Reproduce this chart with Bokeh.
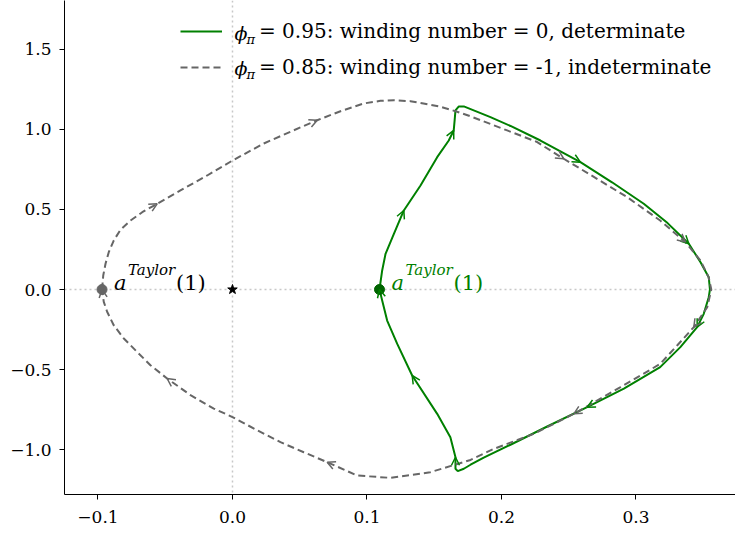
from bokeh.plotting import figure
from bokeh.models import (Range1d, FixedTicker, CustomJSTickFormatter, Span, Arrow, OpenHead,
                          ColumnDataSource, Label, Legend, LegendItem)
from bokeh.embed import file_html
from bokeh.resources import INLINE

# ---------------- data ----------------
# phi_pi = 0.95 (determinate, winding number 0) -- traversed clockwise from a^Taylor(1)
green_x = [0.1093, 0.1113, 0.1138, 0.12, 0.1274, 0.1398, 0.1522, 0.1608, 0.1645, 0.1652,
           0.1658, 0.1683, 0.172, 0.1918, 0.2067, 0.229, 0.2587, 0.2822, 0.3058, 0.3235,
           0.3393, 0.348, 0.3541, 0.355, 0.3541, 0.3504, 0.3455, 0.333, 0.318, 0.291,
           0.2637, 0.234, 0.2067, 0.1868, 0.177, 0.172, 0.1675, 0.1658, 0.1658, 0.162,
           0.1522, 0.1336, 0.1225, 0.115, 0.1113, 0.1093]
green_y = [0.0, 0.119, 0.223, 0.348, 0.494, 0.65, 0.827, 0.931, 0.994, 1.06,
           1.119, 1.144, 1.144, 1.077, 1.022, 0.931, 0.796, 0.67, 0.536, 0.415,
           0.286, 0.17, 0.077, 0.0, -0.048, -0.152, -0.235, -0.36, -0.485, -0.62,
           -0.735, -0.856, -0.97, -1.05, -1.095, -1.12, -1.135, -1.12, -1.048, -0.923,
           -0.777, -0.5375, -0.34, -0.194, -0.069, 0.0]
green_arrows = [4, 8, 16, 20, 26, 30, 38, 41, 45]

# phi_pi = 0.85 (indeterminate, winding number -1)
gray_x = [-0.097, -0.0961, -0.0944, -0.092, -0.0883, -0.0833, -0.0758, -0.0671, -0.056, -0.0387,
          -0.0188, 0.0, 0.0233, 0.0431, 0.063, 0.0803, 0.0976, 0.11, 0.12, 0.1323,
          0.142, 0.1547, 0.167, 0.1777, 0.2042, 0.226, 0.2463, 0.266, 0.2935, 0.318,
          0.3368, 0.348, 0.354, 0.356, 0.353, 0.343, 0.3306, 0.318, 0.2885, 0.2538,
          0.224, 0.1943, 0.177, 0.147, 0.1175, 0.0927, 0.0704, 0.053, 0.0357, 0.018,
          0.0, -0.0139, -0.0312, -0.0486, -0.061, -0.0709, -0.0808, -0.0883, -0.0932, -0.0957,
          -0.097]
gray_y = [0.0, 0.0875, 0.161, 0.233, 0.306, 0.373, 0.431, 0.483, 0.536, 0.619,
          0.7125, 0.806, 0.9125, 0.986, 1.058, 1.114, 1.1625, 1.179, 1.183, 1.177,
          1.1625, 1.142, 1.111, 1.08, 0.994, 0.9235, 0.817, 0.7175, 0.577, 0.431,
          0.296, 0.181, 0.077, 0.0, -0.11, -0.235, -0.35, -0.465, -0.61, -0.777,
          -0.902, -0.996, -1.065, -1.142, -1.177, -1.1625, -1.079, -1.017, -0.954, -0.878,
          -0.797, -0.744, -0.66, -0.556, -0.473, -0.39, -0.306, -0.223, -0.139, -0.077,
          0.0]
gray_arrows = [8, 14, 26, 30, 35, 39, 46, 53, 60]

taylor_x = [0.1093, -0.097]   # a^Taylor(1) for phi=0.95, phi=0.85
taylor_y = [0.0, 0.0]
origin_x = [0.0]
origin_y = [0.0]

ref_x = 0.0
ref_y = 0.0

legend_labels = ["= 0.95: winding number = 0, determinate",
                 "= 0.85: winding number = -1, indeterminate"]

x_ticks = [-0.1, 0.0, 0.1, 0.2, 0.3]
x_tick_labels = ["\u22120.1", "0.0", "0.1", "0.2", "0.3"]
y_ticks = [-1.0, -0.5, 0.0, 0.5, 1.0, 1.5]
y_tick_labels = ["\u22121.0", "\u22120.5", "0.0", "0.5", "1.0", "1.5"]

# ---------------- style ----------------
FONT = "DejaVu Serif"
GREEN = "#008000"
DKGREEN = "#006400"
GRAY = "#666666"

p = figure(width=735, height=534, output_backend="svg", toolbar_location=None,
           x_range=Range1d(-0.1249, 0.374), y_range=Range1d(-1.281, 1.806),
           min_border_left=64, min_border_right=0, min_border_top=0, min_border_bottom=40)
p.outline_line_color = None
p.grid.visible = False
p.background_fill_color = "white"
p.border_fill_color = "white"

for loc, dim in ((ref_x, "height"), (ref_y, "width")):
    p.add_layout(Span(location=loc, dimension=dim, line_color="#c8c8c8",
                      line_dash="2 3", line_width=1.5, level="underlay"))

r_green = p.line(green_x, green_y, line_color=GREEN, line_width=2)
r_gray = p.line(gray_x, gray_y, line_color=GRAY, line_width=2, line_dash="7 4")


def arrow_source(xs, ys, idx):
    return ColumnDataSource(dict(x0=[xs[i - 1] for i in idx], y0=[ys[i - 1] for i in idx],
                                 x1=[xs[i] for i in idx], y1=[ys[i] for i in idx]))


for xs, ys, idx, col in ((green_x, green_y, green_arrows, GREEN),
                         (gray_x, gray_y, gray_arrows, GRAY)):
    p.add_layout(Arrow(source=arrow_source(xs, ys, idx), x_start="x0", y_start="y0",
                       x_end="x1", y_end="y1", line_alpha=0, line_width=0,
                       end=OpenHead(size=8, line_color=col, line_width=1.5)))

p.scatter(taylor_x[1:], taylor_y[1:], marker="circle", size=10, fill_color=GRAY, line_color=GRAY)
p.scatter(taylor_x[:1], taylor_y[:1], marker="circle", size=10, fill_color=DKGREEN, line_color=DKGREEN)
p.scatter(origin_x, origin_y, marker="star", size=10, fill_color="black", line_color="black")

# a^{Taylor}(1) labels
for tx, ty, col in ((taylor_x[0], taylor_y[0], GREEN), (taylor_x[1], taylor_y[1], "black")):
    p.add_layout(Label(x=tx, y=ty, x_offset=12, y_offset=7, text="a", text_font=FONT,
                       text_font_style="italic", text_font_size="21px", text_color=col,
                       text_baseline="alphabetic"))
    p.add_layout(Label(x=tx, y=ty, x_offset=26, y_offset=20, text="Taylor", text_font=FONT,
                       text_font_style="italic", text_font_size="15px", text_color=col,
                       text_baseline="alphabetic"))
    p.add_layout(Label(x=tx, y=ty, x_offset=74, y_offset=7, text="(1)", text_font=FONT,
                       text_font_size="21px", text_color=col, text_baseline="alphabetic"))

# legend
legend = Legend(items=[LegendItem(label=legend_labels[0], renderers=[r_green]),
                       LegendItem(label=legend_labels[1], renderers=[r_gray])],
                location=(116, 415), padding=0, margin=0, spacing=12,
                glyph_width=42, glyph_height=20, label_height=20, label_standoff=37,
                label_text_font=FONT, label_text_font_size="20px", label_text_color="black",
                border_line_color=None, background_fill_alpha=0)
p.add_layout(legend)
for yy in (462, 427):
    p.add_layout(Label(x=170, y=yy, x_units="screen", y_units="screen", text="\u03d5",
                       text_font=FONT, text_font_style="italic", text_font_size="19px",
                       text_baseline="middle", text_color="black"))
    p.add_layout(Label(x=182, y=yy - 7, x_units="screen", y_units="screen", text="\u03c0",
                       text_font=FONT, text_font_style="italic", text_font_size="13px",
                       text_baseline="middle", text_color="black"))

# axes
p.xaxis.ticker = FixedTicker(ticks=x_ticks)
p.yaxis.ticker = FixedTicker(ticks=y_ticks)
p.xaxis.formatter = CustomJSTickFormatter(args=dict(vals=x_ticks, labs=x_tick_labels), code="""
  const i = vals.findIndex(v => Math.abs(v - tick) < 1e-9);
  return i >= 0 ? labs[i] : tick.toFixed(1);""")
p.yaxis.formatter = CustomJSTickFormatter(args=dict(vals=y_ticks, labs=y_tick_labels), code="""
  const i = vals.findIndex(v => Math.abs(v - tick) < 1e-9);
  return i >= 0 ? labs[i] : tick.toFixed(1);""")
p.axis.major_label_text_font = FONT
p.axis.major_label_text_font_size = "17px"
p.axis.major_label_text_color = "black"
p.axis.axis_line_color = "black"
p.axis.axis_line_width = 1
p.axis.major_tick_line_color = "black"
p.axis.major_tick_out = 5
p.axis.major_tick_in = 0
p.axis.minor_tick_line_color = None
p.xaxis.major_label_standoff = 11
p.yaxis.major_label_standoff = 8

open("out.html", "w").write(file_html(p, INLINE))
